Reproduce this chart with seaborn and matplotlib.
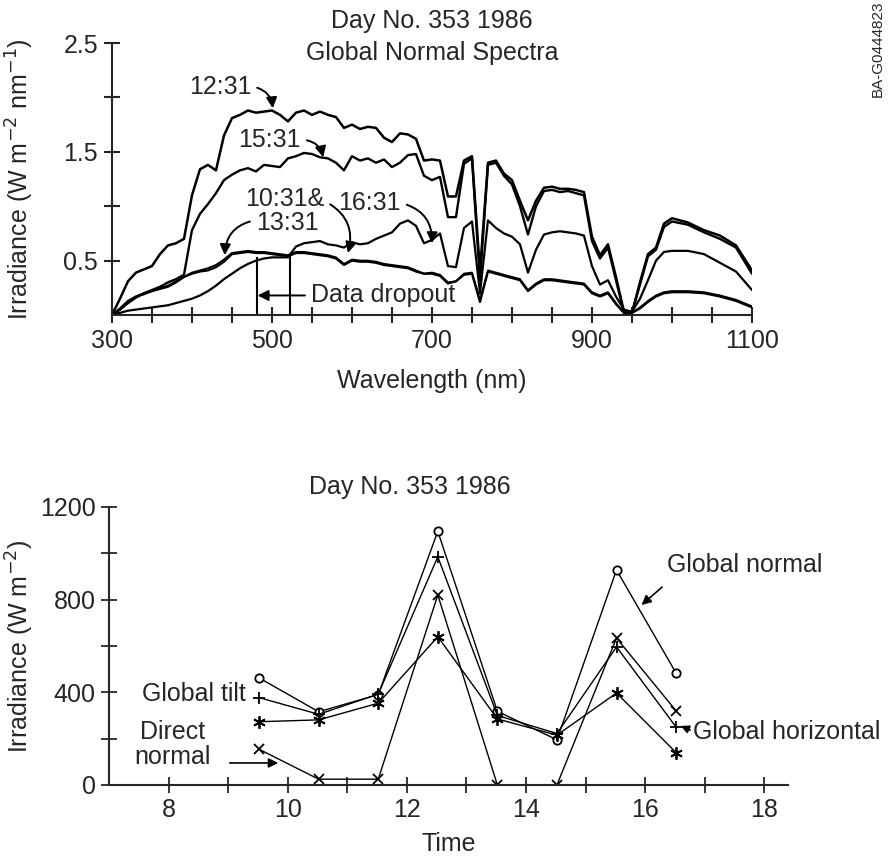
import numpy as np
import pandas as pd
import matplotlib
matplotlib.use("Agg")
import matplotlib.pyplot as plt
import seaborn as sns

# ---- spectra, Day 353 1986 ----
wavelength = [300, 310, 320, 330, 340, 350, 360, 370, 380, 390, 400, 410, 420, 430, 440,
              450, 460, 470, 480, 490, 500, 510, 520, 530, 540, 550, 560, 570, 580, 590,
              600, 610, 620, 630, 640, 650, 660, 670, 680, 690, 700, 710, 720, 730, 740,
              750, 760, 770, 780, 790, 800, 810, 820, 830, 840, 850, 860, 870, 880, 890,
              900, 910, 920, 930, 940, 950, 960, 970, 980, 990, 1000, 1020, 1040, 1060,
              1080, 1100]

irr_1231 = [0.00, 0.15, 0.31, 0.39, 0.42, 0.45, 0.56, 0.64, 0.66, 0.70, 1.10, 1.34, 1.38, 1.33, 1.65,
            1.81, 1.84, 1.88, 1.86, 1.87, 1.88, 1.84, 1.78, 1.86, 1.88, 1.84, 1.87, 1.84, 1.82, 1.72,
            1.75, 1.71, 1.73, 1.72, 1.63, 1.59, 1.67, 1.66, 1.62, 1.42, 1.43, 1.42, 1.09, 1.09, 1.42,
            1.46, 0.40, 1.40, 1.42, 1.30, 1.24, 1.05, 0.87, 1.05, 1.17, 1.18, 1.16, 1.16, 1.15, 1.13,
            0.72, 0.55, 0.65, 0.35, 0.03, 0.02, 0.30, 0.56, 0.62, 0.84, 0.89, 0.85, 0.78, 0.73,
            0.64, 0.41]

irr_1531 = [0.00, 0.05, 0.11, 0.16, 0.20, 0.23, 0.26, 0.30, 0.33, 0.37, 0.78, 0.93, 1.02, 1.12, 1.24,
            1.29, 1.33, 1.35, 1.32, 1.38, 1.37, 1.36, 1.44, 1.46, 1.49, 1.48, 1.45, 1.44, 1.40, 1.33,
            1.46, 1.42, 1.44, 1.40, 1.43, 1.36, 1.40, 1.47, 1.48, 1.28, 1.24, 1.27, 0.90, 0.90, 1.39,
            1.44, 0.32, 1.38, 1.40, 1.28, 1.20, 1.00, 0.74, 1.00, 1.14, 1.15, 1.13, 1.14, 1.12, 1.10,
            0.68, 0.52, 0.62, 0.32, 0.02, 0.02, 0.28, 0.54, 0.60, 0.81, 0.86, 0.83, 0.76, 0.70,
            0.62, 0.38]

irr_1631 = [0.00, 0.02, 0.04, 0.05, 0.06, 0.07, 0.08, 0.09, 0.11, 0.13, 0.15, 0.18, 0.22, 0.27, 0.33,
            0.38, 0.43, 0.47, 0.50, 0.52, 0.53, 0.53, 0.53, 0.63, 0.66, 0.67, 0.68, 0.65, 0.64, 0.62,
            0.67, 0.65, 0.66, 0.70, 0.73, 0.76, 0.84, 0.87, 0.82, 0.66, 0.69, 0.75, 0.45, 0.44, 0.80,
            0.86, 0.20, 0.87, 0.80, 0.75, 0.72, 0.65, 0.39, 0.60, 0.74, 0.76, 0.77, 0.76, 0.75, 0.73,
            0.45, 0.28, 0.32, 0.17, 0.05, 0.03, 0.15, 0.32, 0.50, 0.58, 0.59, 0.59, 0.56, 0.48,
            0.40, 0.23]

irr_1031 = [0.00, 0.06, 0.13, 0.17, 0.20, 0.22, 0.24, 0.26, 0.30, 0.35, 0.38, 0.40, 0.41, 0.44, 0.49,
            0.56, 0.57, 0.58, 0.57, 0.57, 0.56, 0.55, 0.54, 0.57, 0.57, 0.56, 0.55, 0.54, 0.52, 0.46,
            0.50, 0.49, 0.49, 0.48, 0.46, 0.45, 0.44, 0.43, 0.40, 0.38, 0.38, 0.36, 0.29, 0.31, 0.37,
            0.38, 0.12, 0.40, 0.38, 0.36, 0.34, 0.32, 0.22, 0.28, 0.32, 0.32, 0.31, 0.30, 0.29, 0.28,
            0.20, 0.17, 0.20, 0.10, 0.02, 0.02, 0.06, 0.12, 0.17, 0.20, 0.21, 0.21, 0.20, 0.17,
            0.13, 0.07]

irr_1331 = [0.00, 0.05, 0.12, 0.17, 0.19, 0.22, 0.25, 0.27, 0.31, 0.35, 0.39, 0.41, 0.43, 0.46, 0.51,
            0.57, 0.58, 0.59, 0.58, 0.58, 0.57, 0.56, 0.55, 0.58, 0.58, 0.57, 0.56, 0.55, 0.53, 0.47,
            0.51, 0.50, 0.50, 0.49, 0.47, 0.46, 0.45, 0.44, 0.41, 0.38, 0.39, 0.37, 0.30, 0.31, 0.38,
            0.39, 0.14, 0.41, 0.39, 0.37, 0.35, 0.33, 0.23, 0.29, 0.33, 0.33, 0.32, 0.31, 0.30, 0.29,
            0.21, 0.18, 0.21, 0.11, 0.02, 0.02, 0.07, 0.13, 0.18, 0.21, 0.22, 0.22, 0.21, 0.18,
            0.14, 0.08]

dropout_nm = [481, 523]
dropout_top = [0.53, 0.56]

# ---- broadband irradiance through the day ----
times = [9.52, 10.52, 11.52, 12.52, 13.52, 14.52, 15.52, 16.52]
global_normal = [462, 316, 390, 1095, 318, 195, 928, 483]
global_tilt = [377, 305, 392, 985, 300, 222, 596, 250]
global_horizontal = [273, 281, 353, 640, 285, 215, 397, 140]
direct_normal = [154, 25, 25, 820, 0, 0, 634, 320]

sns.set_style("ticks")
plt.rcParams["font.family"] = ["Liberation Sans", "DejaVu Sans"]
plt.rcParams["axes.linewidth"] = 1.5
FS = 18

fig = plt.figure(figsize=(8.95, 8.61), dpi=100)

# ================= top: spectra =================
ax1 = fig.add_axes([0.1251, 0.6341, 0.7151, 0.3159])
spectra = pd.DataFrame({"wavelength": wavelength, "12:31": irr_1231, "15:31": irr_1531,
                        "16:31": irr_1631, "10:31": irr_1031, "13:31": irr_1331})
for col, lw in [("12:31", 1.8), ("15:31", 1.7), ("16:31", 1.6), ("10:31", 1.6), ("13:31", 1.4)]:
    sns.lineplot(data=spectra, x="wavelength", y=col, color="black", lw=lw,
                 estimator=None, ax=ax1)
ax1.vlines(dropout_nm, 0, dropout_top, color="black", lw=1.5)

ax1.set_xlim(300, 1100)
ax1.set_ylim(0, 2.5)
ax1.set_xticks(np.arange(300, 1101, 50))
ax1.set_xticklabels([str(v) if (v - 300) % 200 == 0 else "" for v in range(300, 1101, 50)])
ax1.set_yticks([0.5, 1.0, 1.5, 2.0, 2.5])
ax1.set_yticklabels(["0.5", "", "1.5", "", "2.5"])
ax1.tick_params(direction="inout", length=12, width=1.5, labelsize=FS, pad=4)
ax1.set_xlabel("Wavelength (nm)", fontsize=FS)
ax1.set_ylabel("Irradiance (W m$^{-2}$ nm$^{-1}$)", fontsize=FS)
ax1.xaxis.set_label_coords(0.5, -0.2)
ax1.yaxis.set_label_coords(-0.118, 0.5)
sns.despine(ax=ax1)

ax1.text(700, 2.64, "Day No. 353 1986", ha="center", va="baseline", fontsize=FS)
ax1.text(700, 2.34, "Global Normal Spectra", ha="center", va="baseline", fontsize=FS)

arrow = dict(arrowstyle="-|>", color="black", lw=1.4, mutation_scale=16, shrinkA=2, shrinkB=0)
ax1.annotate("12:31", xy=(501, 1.90), xytext=(435, 2.10), ha="center", va="center", fontsize=FS,
             arrowprops=dict(arrow, connectionstyle="arc3,rad=-0.4", relpos=(1, 0.5)))
ax1.annotate("15:31", xy=(564, 1.45), xytext=(497, 1.61), ha="center", va="center", fontsize=FS,
             arrowprops=dict(arrow, connectionstyle="arc3,rad=-0.4", relpos=(1, 0.5)))
ax1.annotate("10:31&", xy=(595, 0.57), xytext=(516, 1.07), ha="center", va="center", fontsize=FS,
             arrowprops=dict(arrow, connectionstyle="arc3,rad=-0.4", relpos=(1, 0.4)))
ax1.annotate("13:31", xy=(441, 0.55), xytext=(519, 0.85), ha="center", va="center", fontsize=FS,
             arrowprops=dict(arrow, connectionstyle="arc3,rad=0.4", relpos=(0, 0.6)))
ax1.annotate("16:31", xy=(700, 0.66), xytext=(622, 1.03), ha="center", va="center", fontsize=FS,
             arrowprops=dict(arrow, connectionstyle="arc3,rad=-0.4", relpos=(1, 0.5)))
ax1.annotate("Data dropout", xy=(482, 0.18), xytext=(639, 0.18), ha="center", va="center", fontsize=FS,
             arrowprops=dict(arrow, relpos=(0, 0.5)))

fig.text(878 / 895, 1 - 97 / 861, "BA-G0444823", rotation=90, ha="center", va="bottom", fontsize=11)

# ================= bottom: daily course =================
ax2 = fig.add_axes([0.1218, 0.0883, 0.7587, 0.3229])
daily = pd.DataFrame({"time": times, "Global normal": global_normal, "Global tilt": global_tilt,
                      "Global horizontal": global_horizontal, "Direct normal": direct_normal})
daily_long = daily.melt(id_vars="time", var_name="series", value_name="irradiance")
styles = {
    "Global normal": dict(marker="o", markersize=6, markerfacecolor="white"),
    "Global tilt": dict(marker="+", markersize=9, markerfacecolor="black"),
    "Global horizontal": dict(marker=(6, 2, 0), markersize=9, markerfacecolor="black"),
    "Direct normal": dict(marker="x", markersize=7, markerfacecolor="black"),
}
for name, st in styles.items():
    sns.lineplot(data=daily_long[daily_long["series"] == name], x="time", y="irradiance",
                 color="black", lw=1.0, markeredgecolor="black", markeredgewidth=1.3,
                 estimator=None, ax=ax2, **st)

ax2.set_xlim(7, 18.4)
ax2.set_ylim(0, 1200)
ax2.set_xticks(range(8, 19))
ax2.set_xticklabels([str(v) if v % 2 == 0 else "" for v in range(8, 19)])
ax2.set_yticks(range(0, 1201, 200))
ax2.set_yticklabels([str(v) if v % 400 == 0 else "" for v in range(0, 1201, 200)])
ax2.tick_params(direction="inout", length=11, width=1.3, labelsize=FS, pad=4)
ax2.set_xlabel("Time", fontsize=FS)
ax2.set_ylabel("Irradiance (W m$^{-2}$)", fontsize=FS)
ax2.xaxis.set_label_coords(0.5, -0.17)
ax2.yaxis.set_label_coords(-0.108, 0.5)
sns.despine(ax=ax2)

ax2.text(12.05, 1235, "Day No. 353 1986", ha="center", va="bottom", fontsize=FS)
ax2.text(17.67, 950, "Global normal", ha="center", va="center", fontsize=FS)
ax2.annotate("", xy=(15.94, 777), xytext=(16.32, 862),
             arrowprops=dict(arrow, lw=1.2, mutation_scale=14))
ax2.text(9.3, 393, "Global tilt", ha="right", va="center", fontsize=FS)
ax2.text(8.06, 173, "Direct\nnormal", ha="center", va="center", fontsize=FS, linespacing=1.05)
ax2.annotate("", xy=(9.84, 95), xytext=(8.98, 95),
             arrowprops=dict(arrow, lw=1.2, mutation_scale=14))
ax2.text(16.8, 229, "Global horizontal", ha="left", va="center", fontsize=FS)
ax2.annotate("", xy=(16.6, 255), xytext=(16.8, 232),
             arrowprops=dict(arrow, lw=1.2, mutation_scale=12))

fig.savefig("out.png", dpi=100)
